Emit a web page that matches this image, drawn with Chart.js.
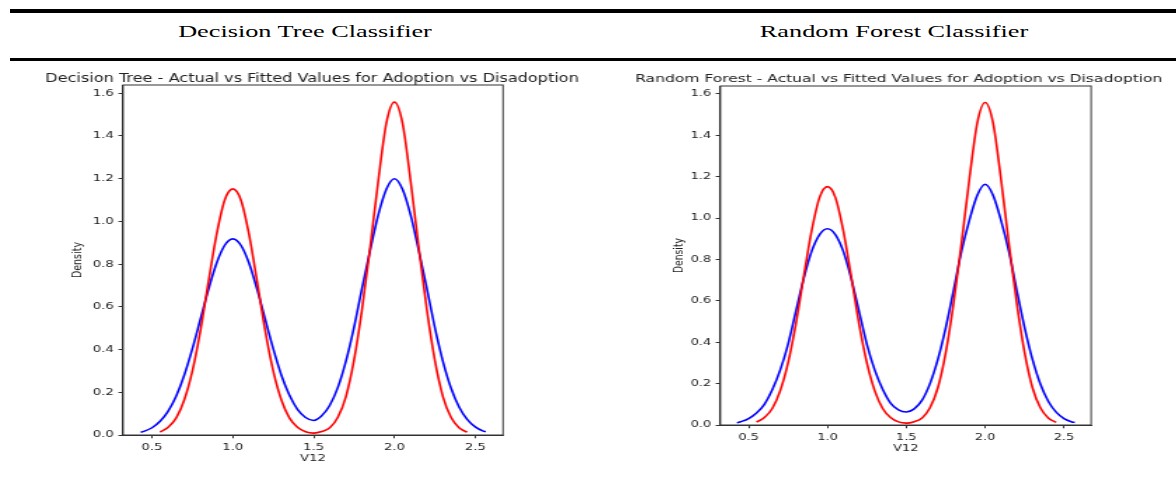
<!DOCTYPE html>
<html>
<head>
<meta charset="utf-8">
<script src="https://cdn.jsdelivr.net/npm/chart.js@4.4.1/dist/chart.umd.min.js"></script>
<style>
  body { margin: 0; background: #fff; width: 1176px; height: 504px; overflow: hidden; position: relative; }
  .rule { position: absolute; left: 10px; right: 0; background: #000; }
  .head { position: absolute; top: 22.5px; width: 400px; text-align: center; white-space: nowrap;
          font-family: "Liberation Serif", "Times New Roman", serif; font-size: 17.5px; line-height: 17px;
          transform: scaleX(1.5); transform-origin: 50% 0; }
  .plot { position: absolute; top: 62px; height: 420px; transform: scaleX(1.4); transform-origin: 0 0; }
</style>
</head>
<body>
<div class="rule" style="top:9px;height:4px"></div>
<div class="head" style="left:105px">Decision Tree Classifier</div>
<div class="head" style="left:694px">Random Forest Classifier</div>
<div class="rule" style="top:58px;height:2.5px"></div>

<div class="plot" style="left:0;width:420px"><canvas id="dtChart"></canvas></div>
<div class="plot" style="left:590px;width:418.6px"><canvas id="rfChart"></canvas></div>

<script>
// tick labels
var xTicks = [0.5, 1.0, 1.5, 2.0, 2.5];
var yTicks = [0.0, 0.2, 0.4, 0.6, 0.8, 1.0, 1.2, 1.4, 1.6];

// actual values (red) - same curve in both panels
var actualX = [0.55, 0.60, 0.65, 0.70, 0.75, 0.80, 0.85, 0.90, 0.95, 1.00, 1.05, 1.10, 1.15, 1.20, 1.25, 1.30, 1.35, 1.40, 1.45, 1.50,
               1.55, 1.60, 1.65, 1.70, 1.75, 1.80, 1.85, 1.90, 1.95, 2.00, 2.05, 2.10, 2.15, 2.20, 2.25, 2.30, 2.35, 2.40, 2.45];
var actualY = [0.014, 0.036, 0.08, 0.165, 0.30, 0.49, 0.72, 0.94, 1.10, 1.152, 1.10, 0.94, 0.72, 0.49, 0.30, 0.165, 0.08, 0.036, 0.015, 0.009,
               0.016, 0.034, 0.083, 0.18, 0.35, 0.59, 0.88, 1.19, 1.46, 1.558, 1.46, 1.19, 0.88, 0.59, 0.35, 0.18, 0.083, 0.034, 0.013];

// fitted values, decision tree (blue)
var dtFittedX = [0.43, 0.45, 0.50, 0.55, 0.60, 0.65, 0.70, 0.75, 0.80, 0.85, 0.90, 0.95, 1.00, 1.05, 1.10, 1.15, 1.20, 1.25, 1.30, 1.35, 1.40, 1.45, 1.50,
                 1.55, 1.60, 1.65, 1.70, 1.75, 1.80, 1.85, 1.90, 1.95, 2.00, 2.05, 2.10, 2.15, 2.20, 2.25, 2.30, 2.35, 2.40, 2.45, 2.50, 2.55, 2.565];
var dtFittedY = [0.013, 0.017, 0.034, 0.064, 0.112, 0.183, 0.281, 0.404, 0.543, 0.683, 0.805, 0.888, 0.918, 0.888, 0.805, 0.683, 0.543, 0.404, 0.281, 0.187, 0.12, 0.082, 0.068,
                 0.09, 0.139, 0.223, 0.346, 0.504, 0.689, 0.865, 1.03, 1.15, 1.199, 1.15, 1.03, 0.865, 0.689, 0.504, 0.345, 0.22, 0.131, 0.073, 0.038, 0.018, 0.015];

// fitted values, random forest (blue)
var rfFittedX = [0.426, 0.45, 0.50, 0.55, 0.60, 0.65, 0.70, 0.75, 0.80, 0.85, 0.90, 0.95, 1.00, 1.05, 1.10, 1.15, 1.20, 1.25, 1.30, 1.35, 1.40, 1.45, 1.50,
                 1.55, 1.60, 1.65, 1.70, 1.75, 1.80, 1.85, 1.90, 1.95, 2.00, 2.05, 2.10, 2.15, 2.20, 2.25, 2.30, 2.35, 2.40, 2.45, 2.50, 2.55, 2.568];
var rfFittedY = [0.011, 0.016, 0.031, 0.058, 0.10, 0.17, 0.265, 0.39, 0.55, 0.71, 0.84, 0.92, 0.948, 0.92, 0.84, 0.71, 0.55, 0.39, 0.265, 0.173, 0.106, 0.073, 0.063,
                 0.078, 0.12, 0.20, 0.317, 0.471, 0.652, 0.84, 0.99, 1.11, 1.163, 1.11, 0.99, 0.84, 0.652, 0.471, 0.317, 0.198, 0.115, 0.062, 0.031, 0.015, 0.012];

function points(xs, ys) {
  return xs.map(function (x, i) { return {x: x, y: ys[i]}; });
}

// box around the plot area + the matplotlib style title
var framePlugin = {
  id: 'frame',
  afterDraw: function (chart, args, o) {
    var a = chart.chartArea, ctx = chart.ctx;
    ctx.save();
    ctx.strokeStyle = '#333';
    ctx.lineWidth = 1;
    ctx.strokeRect(a.left, a.top, a.right - a.left, a.bottom - a.top);
    ctx.fillStyle = '#222';
    ctx.font = o.size + 'px "DejaVu Sans"';
    ctx.textAlign = 'center';
    ctx.textBaseline = 'alphabetic';
    ctx.fillText(o.text, (a.left + a.right) / 2 + o.dx, o.baseline);
    ctx.restore();
  }
};

function makeChart(id, fitted, p) {
  var font = {family: 'DejaVu Sans', size: p.tick};
  return new Chart(document.getElementById(id), {
    type: 'line',
    data: {
      datasets: [
        {label: 'Actual', data: points(actualX, actualY), borderColor: '#ff0000'},
        {label: 'Fitted', data: fitted, borderColor: '#0000ff'}
      ]
    },
    options: {
      responsive: true,
      maintainAspectRatio: false,
      animation: false,
      layout: {padding: {top: p.top, right: p.right, left: 0, bottom: 0}},
      elements: {
        point: {radius: 0},
        line: {borderWidth: 1.6, cubicInterpolationMode: 'monotone', fill: false}
      },
      plugins: {
        legend: {display: false},
        tooltip: {enabled: false},
        frame: {text: p.title, size: p.titleSize, baseline: 19.7, dx: p.dx}
      },
      scales: {
        x: {
          type: 'linear',
          min: 0.321,
          max: 2.672,
          afterBuildTicks: function (s) { s.ticks = xTicks.map(function (v) { return {value: v}; }); },
          afterFit: function (s) { s.height = p.xh; },
          grid: {drawOnChartArea: false, tickLength: 3.3, color: '#333'},
          border: {color: '#333'},
          ticks: {padding: 3.3, color: '#222', font: font, maxRotation: 0, autoSkip: false,
                  callback: function (v) { return v.toFixed(1); }},
          title: {display: true, text: 'V12', color: '#222', font: font, padding: {top: 0, bottom: p.xtp}}
        },
        y: {
          min: 0,
          max: 1.638,
          afterBuildTicks: function (s) { s.ticks = yTicks.map(function (v) { return {value: v}; }); },
          afterFit: function (s) { s.width = p.yw; },
          grid: {drawOnChartArea: false, tickLength: 3.3, color: '#333'},
          border: {color: '#333'},
          ticks: {padding: 3.3, color: '#222', font: font, autoSkip: false,
                  callback: function (v) { return v.toFixed(1); }},
          title: {display: true, text: 'Density', color: '#222', font: font, padding: {top: p.ytp, bottom: 0}}
        }
      }
    },
    plugins: [framePlugin]
  });
}

makeChart('dtChart', points(dtFittedX, dtFittedY), {
  title: 'Decision Tree - Actual vs Fitted Values for Adoption vs Disadoption',
  titleSize: 11.5, tick: 9.5, dx: -0.7,
  top: 23, right: 60.7, yw: 87.9, xh: 47, ytp: 50, xtp: 17.3
});

makeChart('rfChart', points(rfFittedX, rfFittedY), {
  title: 'Random Forest - Actual vs Fitted Values for Adoption vs Disadoption',
  titleSize: 11.05, tick: 9.2, dx: -5,
  top: 24, right: 61.5, yw: 92.9, xh: 57, ytp: 57.6, xtp: 28.3
});
</script>
</body>
</html>
